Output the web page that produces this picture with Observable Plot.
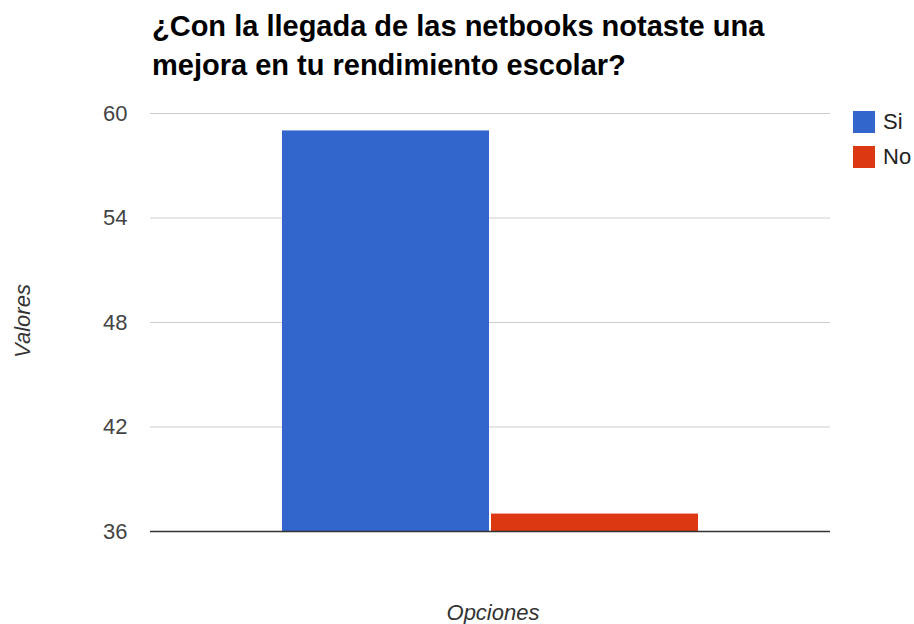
<!DOCTYPE html>
<html>
<head>
<meta charset="utf-8">
<script src="https://cdn.jsdelivr.net/npm/d3@7"></script>
<script src="https://cdn.jsdelivr.net/npm/@observablehq/plot@0.6"></script>
<style>
  html, body { margin: 0; padding: 0; background: #fff; overflow: hidden; }
  #wrap { position: relative; width: 914px; height: 624px; font-family: "Liberation Sans", Arial, sans-serif; }
  #title { position: absolute; left: 152px; top: 7px; font-size: 29px; font-weight: bold; color: #000; line-height: 39px; white-space: nowrap; }
  .lab { position: absolute; font-size: 22px; font-style: italic; color: #333; line-height: 26px; white-space: nowrap; }
  .leg { position: absolute; left: 853px; font-size: 22px; color: #222; display: flex; align-items: center; height: 22px; white-space: nowrap; }
  .leg span.sw { display: inline-block; width: 22px; height: 22px; margin-right: 8px; }
</style>
</head>
<body>
<div id="wrap">
  <div id="chart"></div>
  <div id="title">¿Con la llegada de las netbooks notaste una<br>mejora en tu rendimiento escolar?</div>
  <div class="lab" id="ylab" style="left:23px; top:321px; transform: translate(-50%,-50%) rotate(-90deg);">Valores</div>
  <div class="lab" id="xlab" style="left:493px; top:613px; transform: translate(-50%,-50%);">Opciones</div>
  <div id="legend"></div>
</div>
<script>
const categories = ["Si", "No"];
const values = [59, 37];
const colors = ["#3366cc", "#dc3912"];
const yTicks = [36, 42, 48, 54, 60];

const data = categories.map((c, i) => ({opcion: c, valor: values[i]}));

const chart = Plot.plot({
  width: 914,
  height: 624,
  marginLeft: 150,
  marginRight: 84,
  marginTop: 113,
  marginBottom: 93,
  style: {fontFamily: "'Liberation Sans', Arial, sans-serif", fontSize: "22px", color: "#444", background: "#fff"},
  x: {domain: categories, paddingInner: 0.008, paddingOuter: 0.624, axis: null},
  y: {domain: [36, 60], ticks: yTicks, label: null, tickSize: 0, tickPadding: 23, tickFormat: d => d},
  color: {domain: categories, range: colors},
  marks: [
    Plot.gridY(yTicks, {stroke: "#cccccc", strokeOpacity: 1, strokeWidth: 1}),
    Plot.barY(data, {x: "opcion", y1: 36, y2: "valor", fill: "opcion"}),
    Plot.ruleY([36], {stroke: "#333", strokeWidth: 1.5})
  ]
});
document.getElementById("chart").appendChild(chart);

const legend = document.getElementById("legend");
categories.forEach((c, i) => {
  const d = document.createElement("div");
  d.className = "leg";
  d.style.top = (111 + i * 35) + "px";
  d.innerHTML = `<span class="sw" style="background:${colors[i]}"></span>${c}`;
  legend.appendChild(d);
});
</script>
</body>
</html>
